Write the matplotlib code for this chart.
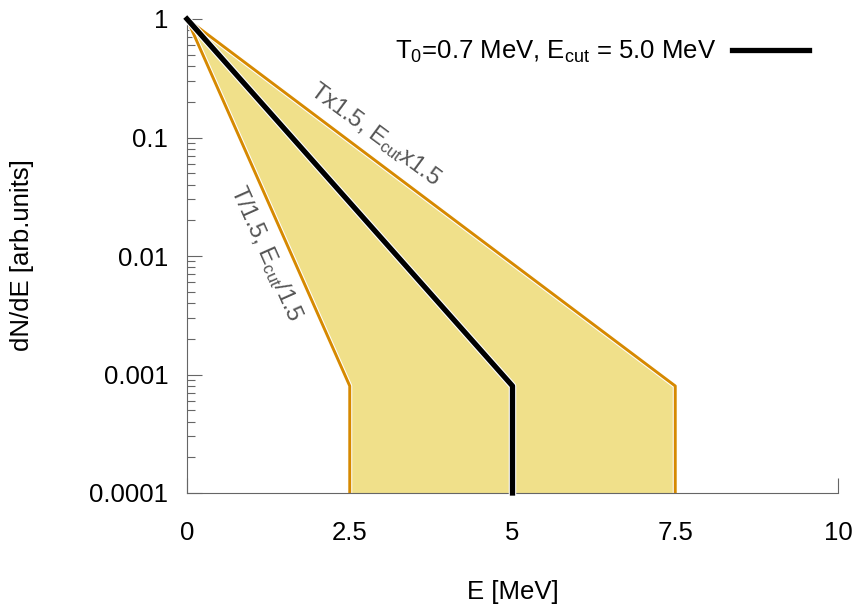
import numpy as np
import matplotlib
matplotlib.use('Agg')
from matplotlib import pyplot as plt
import matplotlib.patheffects as pe

plt.rcParams['font.family'] = ['Liberation Sans', 'DejaVu Sans']
plt.rcParams['mathtext.default'] = 'regular'

# nominal spectrum and the two bounding variations (straight lines on log scale)
E_nom = [0, 5.0, 5.0]
y_nom = [1.0, 8e-4, 1e-4]
E_hi = [0, 7.5, 7.5]
y_hi = [1.0, 8e-4, 1e-4]
E_lo = [0, 2.5, 2.5]
y_lo = [1.0, 8e-4, 1e-4]

xticks = [0, 2.5, 5, 7.5, 10]
xtick_labels = ['0', '2.5', '5', '7.5', '10']
yticks = [1, 0.1, 0.01, 0.001, 0.0001]
ytick_labels = ['1', '0.1', '0.01', '0.001', '0.0001']

fill_c = '#f0e08a'
edge_c = '#d68900'
axis_c = '#666666'
fs = 18.5

fig = plt.figure(figsize=(8.59, 6.07), dpi=100)
ax = fig.add_axes([187 / 859, 1 - 493 / 607, 651 / 859, 474 / 607])
ax.set_yscale('log')
ax.set_xlim(0, 10)
ax.set_ylim(1e-4, 1)

# band between the two variations
ax.fill(np.r_[E_hi, E_lo[::-1]], np.r_[y_hi, y_lo[::-1]],
        facecolor=fill_c, edgecolor='none', zorder=1)
halo = [pe.Stroke(linewidth=3.6, foreground='white'), pe.Normal()]
ax.plot(E_hi, y_hi, c=edge_c, lw=2.1, zorder=2, path_effects=halo)
ax.plot(E_lo, y_lo, c=edge_c, lw=2.1, zorder=2, path_effects=halo)
ax.plot(E_nom, y_nom, c='black', lw=3.8, zorder=3, clip_on=False,
        label=r'T$_0$=0.7 MeV, E$_{cut}$ = 5.0 MeV',
        path_effects=[pe.Stroke(linewidth=5.4, foreground='white'), pe.Normal()])

ax.text(2.9, 0.105, r'Tx1.5, E$_{cut}$x1.5', fontsize=17, color='#555555',
        ha='center', va='center', rotation=-36.5, rotation_mode='anchor')
ax.text(1.22, 0.0105, r'T/1.5, E$_{cut}$/1.5', fontsize=17, color='#555555',
        ha='center', va='center', rotation=-66, rotation_mode='anchor')

# gnuplot-like axes
for s in ['top', 'right']:
    ax.spines[s].set_visible(False)
for s in ['left', 'bottom']:
    ax.spines[s].set_color(axis_c)
    ax.spines[s].set_linewidth(0.8)
ax.set_axisbelow(True)
ax.set_xticks(xticks)
ax.set_xticklabels(xtick_labels)
ax.set_yticks(yticks)
ax.set_yticklabels(ytick_labels)
ax.tick_params(axis='both', which='major', direction='in', length=11,
               width=0.8, color=axis_c, labelsize=fs)
ax.tick_params(axis='y', which='major', pad=13.5)
ax.tick_params(axis='x', which='major', pad=20)
ax.yaxis.set_minor_locator(matplotlib.ticker.LogLocator(base=10, subs=np.arange(2, 10)))
ax.yaxis.set_minor_formatter(matplotlib.ticker.NullFormatter())
ax.tick_params(axis='y', which='minor', direction='in', length=5.5,
               width=0.8, color=axis_c)

ax.set_xlabel('E [MeV]', fontsize=fs)
ax.xaxis.label.set_va('center')
ax.xaxis.set_label_coords(0.5, -0.209)
ax.set_ylabel('dN/dE [arb.units]', fontsize=fs)
ax.yaxis.label.set_va('center')
ax.yaxis.set_label_coords(-0.253, 0.502)

ax.legend(loc='center right', bbox_to_anchor=(809 / 859, 1 - 52 / 607),
          bbox_transform=fig.transFigure, markerfirst=False, frameon=False,
          fontsize=fs, handlelength=3.0, handletextpad=0.6,
          borderpad=0, borderaxespad=0)

plt.savefig('out.png', dpi=100)
